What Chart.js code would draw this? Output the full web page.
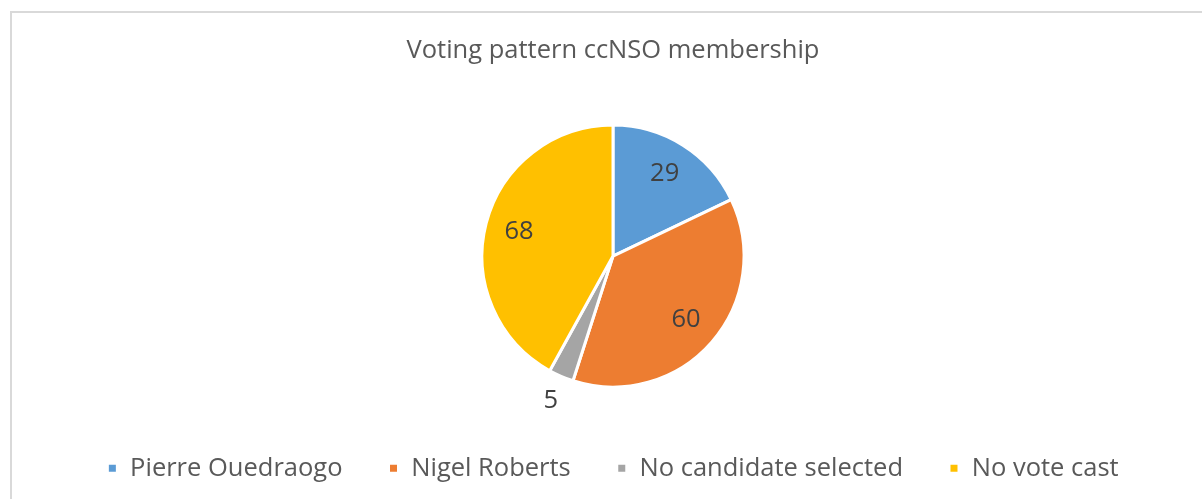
<!DOCTYPE html>
<html>
<head>
<meta charset="utf-8">
<script src="https://cdn.jsdelivr.net/npm/chart.js@4.4.1/dist/chart.umd.min.js"></script>
<style>
  html, body { margin: 0; padding: 0; background: #fff; overflow: hidden; }
  #frame {
    position: absolute; left: 10px; top: 11px; width: 1200px; height: 495px;
    border-top: 2px solid #d9d9d9; border-left: 2px solid #d9d9d9;
  }
  #wrap { position: absolute; left: 12px; top: 13px; width: 1190px; height: 486px; }
</style>
</head>
<body>
<div id="frame"></div>
<div id="wrap"><canvas id="voteChart"></canvas></div>
<script>
// data
var categories = ['Pierre Ouedraogo', 'Nigel Roberts', 'No candidate selected', 'No vote cast'];
var votes = [29, 60, 5, 68];
var sliceColors = ['#5B9BD5', '#ED7D31', '#A5A5A5', '#FFC000'];
var chartTitle = 'Voting pattern ccNSO membership';

var FONT = "'Open Sans', sans-serif";
var FS = 25.5;

// little plugin to write the values on the slices (small ones go outside)
var sliceLabels = {
    id: 'sliceLabels',
    afterDatasetsDraw: function(chart){
        var ctx = chart.ctx;
        var meta = chart.getDatasetMeta(0);
        var data = chart.data.datasets[0].data;
        var total = data.reduce(function(a, b){ return a + b; }, 0);
        ctx.save();
        ctx.font = FS + 'px ' + FONT;
        ctx.fillStyle = '#404040';
        ctx.textAlign = 'center';
        ctx.textBaseline = 'middle';
        meta.data.forEach(function(arc, i){
            var mid = (arc.startAngle + arc.endAngle) / 2;
            var r = data[i] / total < 0.05 ? arc.outerRadius * 1.2 : arc.outerRadius * 0.74;
            ctx.fillText(String(data[i]), arc.x + Math.cos(mid) * r, arc.y + Math.sin(mid) * r);
        });
        ctx.restore();
    }
};

var ctx = document.getElementById('voteChart').getContext('2d');
var chart = new Chart(ctx, {
    type: 'pie',
    data: {
        labels: categories,
        datasets: [{
            data: votes,
            backgroundColor: sliceColors,
            borderColor: '#ffffff',
            borderWidth: 3,
            radius: 131
        }]
    },
    options: {
        responsive: true,
        maintainAspectRatio: false,
        animation: false,
        layout: { padding: { left: 12, top: 0, bottom: 8 } },
        plugins: {
            title: {
                display: true,
                text: chartTitle,
                color: '#595959',
                font: { family: FONT, size: FS, weight: 'normal' },
                padding: { top: 22, bottom: 37 }
            },
            legend: {
                position: 'bottom',
                labels: {
                    color: '#595959',
                    font: { family: FONT, size: FS },
                    boxWidth: 10,
                    boxHeight: 10,
                    padding: 46
                }
            },
            tooltip: { enabled: false }
        }
    },
    plugins: [sliceLabels]
});
</script>
</body>
</html>
